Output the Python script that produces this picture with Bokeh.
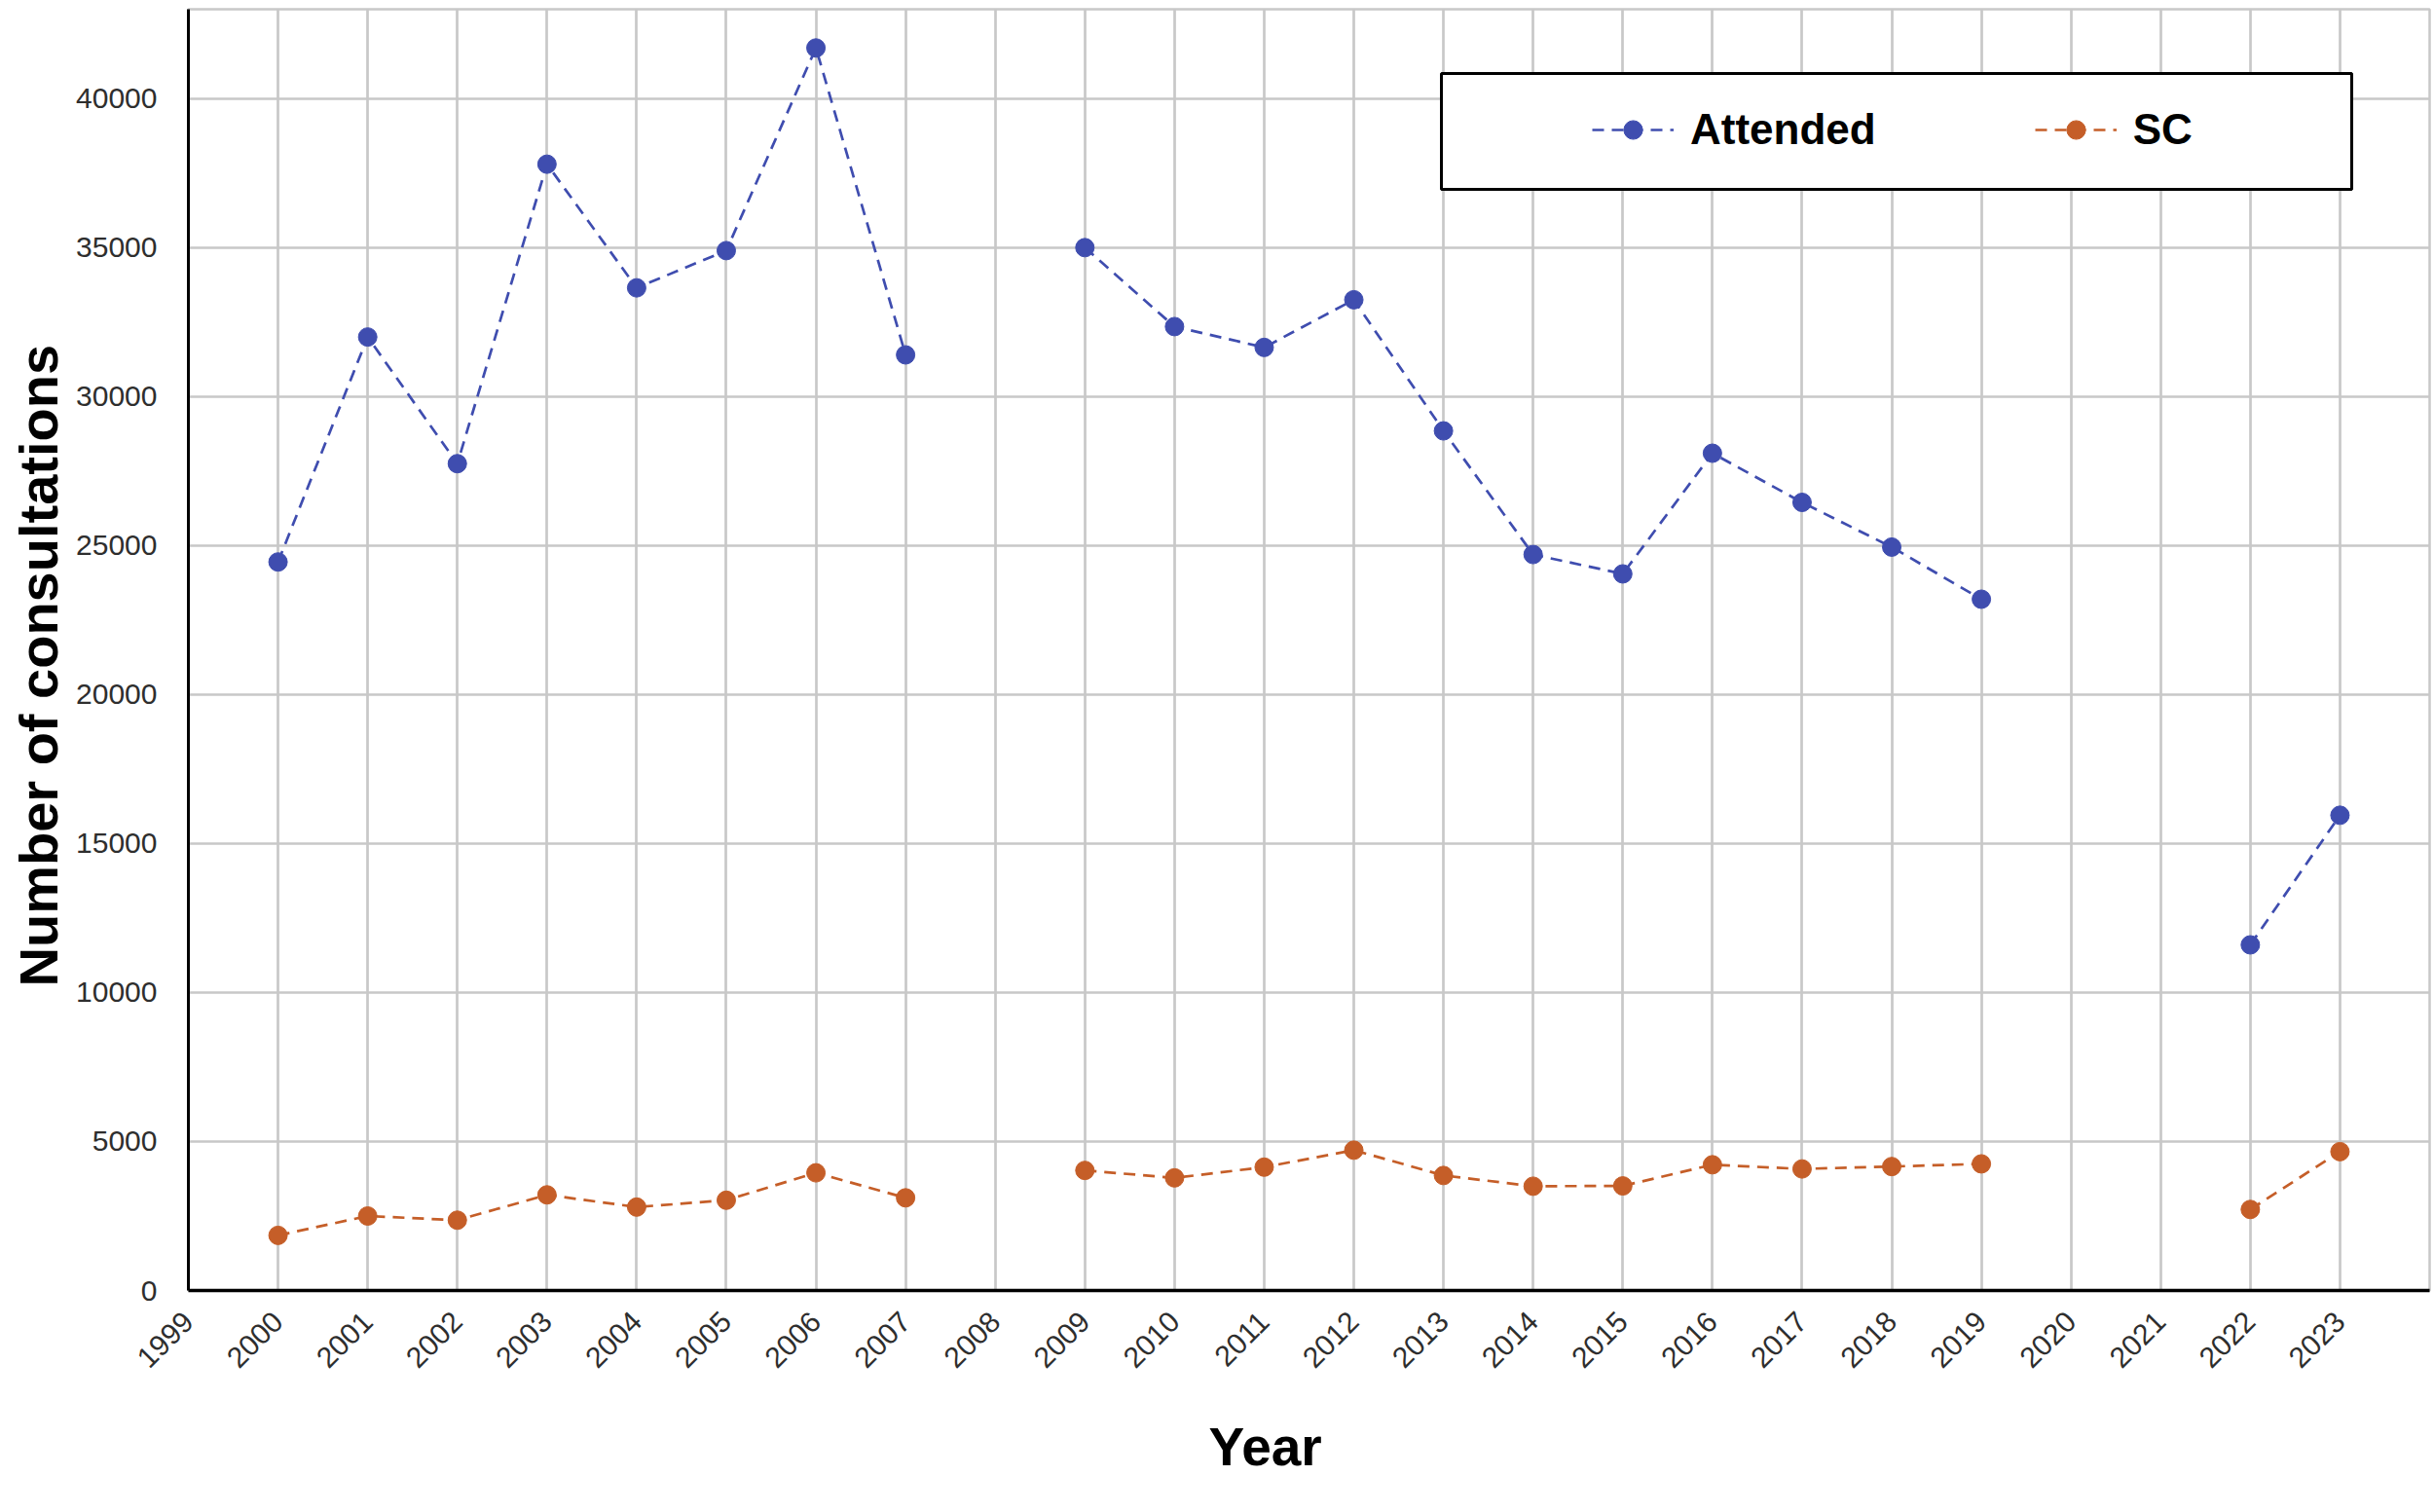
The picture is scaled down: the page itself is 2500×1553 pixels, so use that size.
import math
from bokeh.plotting import figure
from bokeh.models import Range1d, FixedTicker, Legend, LegendItem, BoxAnnotation, Title
from bokeh.embed import file_html
from bokeh.resources import INLINE

nan = float("nan")

# ---- data ----
year_ticks = list(range(1999, 2024))
year_labels = [str(y) for y in year_ticks]
y_ticks = [0, 5000, 10000, 15000, 20000, 25000, 30000, 35000, 40000]
y_labels = ["0", "5000", "10000", "15000", "20000", "25000", "30000", "35000", "40000"]

years = [2000, 2001, 2002, 2003, 2004, 2005, 2006, 2007, 2008, 2009, 2010, 2011,
         2012, 2013, 2014, 2015, 2016, 2017, 2018, 2019, 2020, 2021, 2022, 2023]
attended = [24450, 32000, 27750, 37800, 33650, 34900, 41700, 31400, nan, 35000, 32350, 31650,
            33250, 28850, 24700, 24050, 28100, 26450, 24950, 23200, nan, nan, 11600, 15950]
sc = [1850, 2500, 2360, 3210, 2800, 3030, 3950, 3110, nan, 4030, 3780, 4140,
      4710, 3860, 3500, 3510, 4220, 4080, 4160, 4250, nan, nan, 2720, 4660]

series_names = ["Attended", "SC"]
series_colors = ["#3F4DAF", "#C55E28"]
x_title = "Year"
y_title = "Number of consultations"

FONT = "Liberation Sans"

p = figure(width=2500, height=1553, output_backend="svg", toolbar_location=None,
           x_range=Range1d(1999, 2024), y_range=Range1d(0, 43000),
           min_border_left=192, min_border_right=5, min_border_top=9, min_border_bottom=228)

p.background_fill_color = "white"
p.border_fill_color = "white"
p.outline_line_color = "#C8C8C8"
p.outline_line_width = 2.5

# grids
p.xgrid.ticker = FixedTicker(ticks=year_ticks)
p.ygrid.ticker = FixedTicker(ticks=y_ticks)
p.xgrid.grid_line_color = "#C8C8C8"
p.xgrid.grid_line_width = 2.7
p.ygrid.grid_line_color = "#C8C8C8"
p.ygrid.grid_line_width = 2.5

# x axis
xa = p.xaxis[0]
xa.ticker = FixedTicker(ticks=year_ticks)
xa.major_label_overrides = {t: l for t, l in zip(year_ticks, year_labels)}
xa.major_label_orientation = math.pi / 4
xa.major_label_text_font = FONT
xa.major_label_text_font_size = "30px"
xa.major_label_text_color = "#2E2E2E"
xa.major_label_standoff = 27
xa.major_tick_in = 0
xa.major_tick_out = 0
xa.minor_tick_in = 0
xa.minor_tick_out = 0
xa.axis_line_color = "black"
xa.axis_line_width = 3.5

# y axis
ya = p.yaxis[0]
ya.ticker = FixedTicker(ticks=y_ticks)
ya.major_label_overrides = {t: l for t, l in zip(y_ticks, y_labels)}
ya.major_label_text_font = FONT
ya.major_label_text_font_size = "30px"
ya.major_label_text_color = "#2E2E2E"
ya.major_label_standoff = 32
ya.major_tick_in = 0
ya.major_tick_out = 0
ya.minor_tick_in = 0
ya.minor_tick_out = 0
ya.axis_line_color = "black"
ya.axis_line_width = 3

# axis titles as side-panel titles (allow an off-centre position like the reference)
p.add_layout(Title(text=x_title, align="left", offset=1048, standoff=72,
                   text_font=FONT, text_font_style="bold", text_font_size="55px",
                   text_color="black"), "below")
p.add_layout(Title(text=y_title, align="left", offset=312, standoff=10,
                   text_font=FONT, text_font_style="bold", text_font_size="56px",
                   text_color="black"), "left")

items = []
for name, vals, col in zip(series_names, [attended, sc], series_colors):
    ln = p.line(years, vals, line_color=col, line_width=2.7, line_dash="12 8")
    sct = p.scatter(years, vals, marker="circle", size=19, fill_color=col, line_color=col)
    items.append(LegendItem(label=name, renderers=[ln, sct]))

# legend frame box (screen units relative to plot frame)
box = BoxAnnotation(left=1287, right=2222, bottom=1131, top=1250,
                    left_units="screen", right_units="screen",
                    bottom_units="screen", top_units="screen",
                    fill_color="white", fill_alpha=1.0,
                    line_color="black", line_alpha=1.0, line_width=3)
p.add_layout(box)

legend = Legend(items=items, orientation="horizontal", location=(1442, 1167),
                padding=0, margin=0, spacing=163,
                glyph_width=84, glyph_height=48, label_height=48,
                label_standoff=17,
                label_text_font=FONT, label_text_font_style="bold",
                label_text_font_size="44px", label_text_color="black",
                border_line_alpha=0, background_fill_alpha=0)
p.add_layout(legend, "center")

open("out.html", "w").write(file_html(p, INLINE))
